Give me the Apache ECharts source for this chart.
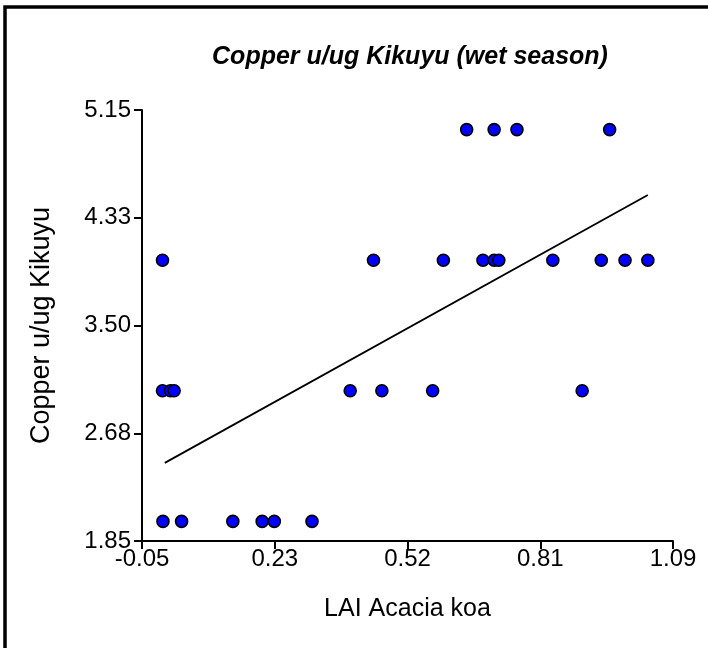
<!DOCTYPE html>
<html>
<head>
<meta charset="utf-8">
<script src="https://cdn.jsdelivr.net/npm/echarts@6/dist/echarts.min.js"></script>
<style>
html,body{margin:0;padding:0;background:#fff;}
#chart{width:708px;height:648px;}
</style>
</head>
<body>
<div id="chart"></div>
<script>
// LAI Acacia koa (x) and Copper u/ug Kikuyu (y)
const laiValues = [
  -0.005, 0.035, 0.145, 0.208, 0.234, 0.315,
  -0.006, 0.011, 0.019, 0.397, 0.465, 0.574, 0.895,
  -0.006, 0.447, 0.597, 0.682, 0.706, 0.716, 0.832, 0.936, 0.987, 1.036,
  0.647, 0.706, 0.755, 0.954
];
const copperValues = [
  2, 2, 2, 2, 2, 2,
  3, 3, 3, 3, 3, 3, 3,
  4, 4, 4, 4, 4, 4, 4, 4, 4, 4,
  5, 5, 5, 5
];
// regression line end points
const fitX = [-0.001, 1.036];
const fitY = [2.448, 4.499];

const xTickLabels = ['-0.05', '0.23', '0.52', '0.81', '1.09'];
const yTickLabels = ['1.85', '2.68', '3.50', '4.33', '5.15'];
const xRange = [-0.05, 1.09];
const yRange = [1.85, 5.15];

const titleText = 'Copper u/ug Kikuyu (wet season)';
const xName = 'LAI Acacia koa';
const yName = 'Copper u/ug Kikuyu';

const FONT = '"Liberation Sans", Arial, Helvetica, sans-serif';

const points = laiValues.map((x, i) => [x, copperValues[i]]);
const fitLine = fitX.map((x, i) => [x, fitY[i]]);

const chart = echarts.init(document.getElementById('chart'), null, {renderer: 'canvas'});

const axisLine = {show: true, onZero: false, lineStyle: {color: '#000', width: 2}};
const axisTick = {show: true, inside: false, length: 8, lineStyle: {color: '#000', width: 2}};

chart.setOption({
  animation: false,
  backgroundColor: '#fff',
  grid: {left: 142, right: 35, top: 110, bottom: 107, containLabel: false},
  graphic: [
    {type: 'rect', shape: {x: 5, y: 7, width: 900, height: 900},
     style: {fill: 'none', stroke: '#000', lineWidth: 3.5}, silent: true},
    {type: 'text', x: 410, y: 57,
     style: {text: titleText, font: 'italic bold 25px ' + FONT, fill: '#000',
             textAlign: 'center', textVerticalAlign: 'middle'}}
  ],
  xAxis: [
    {type: 'value', min: xRange[0], max: xRange[1], show: false, splitLine: {show: false}},
    {type: 'value', min: 0, max: xTickLabels.length - 1, interval: 1, position: 'bottom',
     axisLine: axisLine, axisTick: axisTick, splitLine: {show: false},
     axisLabel: {color: '#000', fontFamily: FONT, fontSize: 24, margin: 6,
                 formatter: v => xTickLabels[Math.round(v)]},
     name: xName, nameLocation: 'middle', nameGap: 56,
     nameTextStyle: {color: '#000', fontFamily: FONT, fontSize: 25}}
  ],
  yAxis: [
    {type: 'value', min: yRange[0], max: yRange[1], show: false, splitLine: {show: false}},
    {type: 'value', min: 0, max: yTickLabels.length - 1, interval: 1, position: 'left',
     axisLine: axisLine, axisTick: axisTick, splitLine: {show: false},
     axisLabel: {color: '#000', fontFamily: FONT, fontSize: 24, margin: 11,
                 formatter: v => yTickLabels[Math.round(v)]},
     name: yName, nameLocation: 'middle', nameGap: 87, nameRotate: 90,
     nameTextStyle: {color: '#000', fontFamily: FONT, fontSize: 27}}
  ],
  series: [
    {type: 'line', xAxisIndex: 0, yAxisIndex: 0, data: fitLine, symbol: 'none',
     lineStyle: {color: '#000', width: 1.8}, silent: true, z: 2},
    {type: 'scatter', xAxisIndex: 0, yAxisIndex: 0, data: points, symbol: 'circle', symbolSize: 12,
     itemStyle: {color: '#0000ff', borderColor: '#000', borderWidth: 1.6, opacity: 1}, z: 3}
  ]
});
</script>
</body>
</html>
